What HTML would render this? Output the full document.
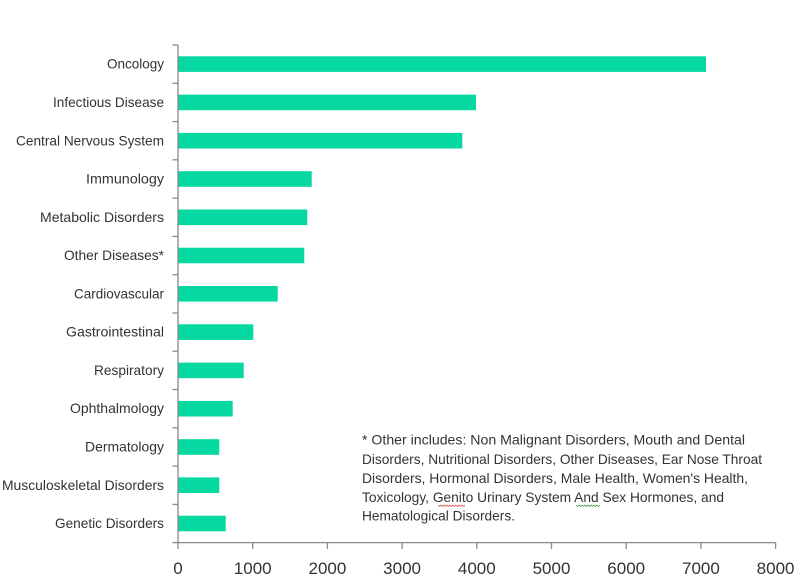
<!DOCTYPE html>
<html>
<head>
<meta charset="utf-8">
<style>
html,body{margin:0;padding:0;background:#fff;}
svg{display:block;}
text{font-family:"Liberation Sans",Arial,sans-serif;fill:#333;}
</style>
</head>
<body>
<svg width="800" height="586" viewBox="0 0 800 586" xmlns="http://www.w3.org/2000/svg">
<rect width="800" height="586" fill="#fff"/>
<!-- bars -->
<g fill="#05D9A1">
<rect x="178" y="56.3" width="528" height="15.6"/>
<rect x="178" y="94.6" width="298" height="15.6"/>
<rect x="178" y="132.9" width="284.3" height="15.6"/>
<rect x="178" y="171.2" width="133.7" height="15.6"/>
<rect x="178" y="209.5" width="129.3" height="15.6"/>
<rect x="178" y="247.7" width="126.3" height="15.6"/>
<rect x="178" y="286" width="99.7" height="15.6"/>
<rect x="178" y="324.3" width="75.3" height="15.6"/>
<rect x="178" y="362.6" width="65.7" height="15.6"/>
<rect x="178" y="400.9" width="54.7" height="15.6"/>
<rect x="178" y="439.2" width="41.3" height="15.6"/>
<rect x="178" y="477.4" width="41.3" height="15.6"/>
<rect x="178" y="515.7" width="47.7" height="15.6"/>
</g>
<!-- axes -->
<g stroke="#8a8a8a" stroke-width="1.3" fill="none">
<line x1="178" y1="45" x2="178" y2="543"/>
<line x1="178" y1="542.6" x2="775.6" y2="542.6"/>
<!-- y ticks -->
<line x1="172.5" y1="45" x2="178" y2="45"/>
<line x1="172.5" y1="83.3" x2="178" y2="83.3"/>
<line x1="172.5" y1="121.6" x2="178" y2="121.6"/>
<line x1="172.5" y1="159.8" x2="178" y2="159.8"/>
<line x1="172.5" y1="198.1" x2="178" y2="198.1"/>
<line x1="172.5" y1="236.4" x2="178" y2="236.4"/>
<line x1="172.5" y1="274.7" x2="178" y2="274.7"/>
<line x1="172.5" y1="313" x2="178" y2="313"/>
<line x1="172.5" y1="351.2" x2="178" y2="351.2"/>
<line x1="172.5" y1="389.5" x2="178" y2="389.5"/>
<line x1="172.5" y1="427.8" x2="178" y2="427.8"/>
<line x1="172.5" y1="466.1" x2="178" y2="466.1"/>
<line x1="172.5" y1="504.4" x2="178" y2="504.4"/>
<line x1="172.5" y1="542.6" x2="178" y2="542.6"/>
<!-- x ticks -->
<line x1="178" y1="542.6" x2="178" y2="549"/>
<line x1="252.7" y1="542.6" x2="252.7" y2="549"/>
<line x1="327.4" y1="542.6" x2="327.4" y2="549"/>
<line x1="402.1" y1="542.6" x2="402.1" y2="549"/>
<line x1="476.8" y1="542.6" x2="476.8" y2="549"/>
<line x1="551.5" y1="542.6" x2="551.5" y2="549"/>
<line x1="626.2" y1="542.6" x2="626.2" y2="549"/>
<line x1="700.9" y1="542.6" x2="700.9" y2="549"/>
<line x1="775.6" y1="542.6" x2="775.6" y2="549"/>
</g>
<!-- x tick labels -->
<g font-size="17" text-anchor="middle">
<text x="178" y="574">0</text>
<text x="252.7" y="574">1000</text>
<text x="327.4" y="574">2000</text>
<text x="402.1" y="574">3000</text>
<text x="476.8" y="574">4000</text>
<text x="551.5" y="574">5000</text>
<text x="626.2" y="574">6000</text>
<text x="700.9" y="574">7000</text>
<text x="775.6" y="574">8000</text>
</g>
<!-- category labels -->
<g font-size="13.6" text-anchor="end">
<text x="164" y="68.7" textLength="57" lengthAdjust="spacingAndGlyphs">Oncology</text>
<text x="164" y="107" textLength="111" lengthAdjust="spacingAndGlyphs">Infectious Disease</text>
<text x="164" y="145.3" textLength="148" lengthAdjust="spacingAndGlyphs">Central Nervous System</text>
<text x="164" y="183.5" textLength="78" lengthAdjust="spacingAndGlyphs">Immunology</text>
<text x="164" y="221.8" textLength="124" lengthAdjust="spacingAndGlyphs">Metabolic Disorders</text>
<text x="164" y="260.1" textLength="100" lengthAdjust="spacingAndGlyphs">Other Diseases*</text>
<text x="164" y="298.4" textLength="90" lengthAdjust="spacingAndGlyphs">Cardiovascular</text>
<text x="164" y="336.7" textLength="98" lengthAdjust="spacingAndGlyphs">Gastrointestinal</text>
<text x="164" y="374.9" textLength="70" lengthAdjust="spacingAndGlyphs">Respiratory</text>
<text x="164" y="413.2" textLength="94" lengthAdjust="spacingAndGlyphs">Ophthalmology</text>
<text x="164" y="451.5" textLength="79" lengthAdjust="spacingAndGlyphs">Dermatology</text>
<text x="164" y="489.8" textLength="162" lengthAdjust="spacingAndGlyphs">Musculoskeletal Disorders</text>
<text x="164" y="528.1" textLength="109" lengthAdjust="spacingAndGlyphs">Genetic Disorders</text>
</g>
<!-- note -->
<g font-size="13.6">
<text x="362" y="444.5" textLength="383" lengthAdjust="spacingAndGlyphs">* Other includes: Non Malignant Disorders, Mouth and Dental</text>
<text x="362" y="463.8" textLength="400" lengthAdjust="spacingAndGlyphs">Disorders, Nutritional Disorders, Other Diseases, Ear Nose Throat</text>
<text x="362" y="482.9" textLength="386" lengthAdjust="spacingAndGlyphs">Disorders, Hormonal Disorders, Male Health, Women's Health,</text>
<text x="362" y="502" textLength="362" lengthAdjust="spacingAndGlyphs">Toxicology, Genito Urinary System And Sex Hormones, and</text>
<text x="362" y="520.5" textLength="153" lengthAdjust="spacingAndGlyphs">Hematological Disorders.</text>
</g>
<!-- spellcheck squiggles -->
<path d="M438 505 l1.5 1.5 l1.5 -1.5 l1.5 1.5 l1.5 -1.5 l1.5 1.5 l1.5 -1.5 l1.5 1.5 l1.5 -1.5 l1.5 1.5 l1.5 -1.5 l1.5 1.5 l1.5 -1.5 l1.5 1.5 l1.5 -1.5 l1.5 1.5 l1.5 -1.5 l1.5 1.5 l1.5 -1.5" stroke="#e06060" stroke-width="0.8" fill="none"/>
<path d="M576 505 l1.5 1.5 l1.5 -1.5 l1.5 1.5 l1.5 -1.5 l1.5 1.5 l1.5 -1.5 l1.5 1.5 l1.5 -1.5 l1.5 1.5 l1.5 -1.5 l1.5 1.5 l1.5 -1.5 l1.5 1.5 l1.5 -1.5 l1.5 1.5 l1.5 -1.5" stroke="#5aa05a" stroke-width="0.8" fill="none"/>
</svg>
</body>
</html>
